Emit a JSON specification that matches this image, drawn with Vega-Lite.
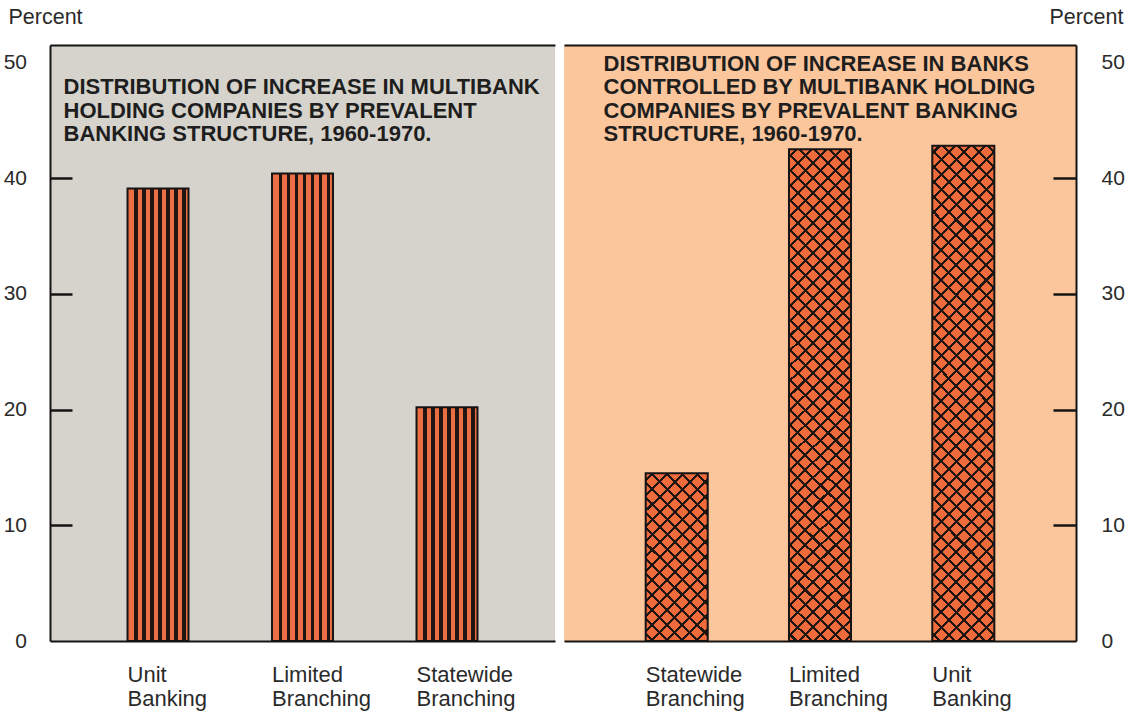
{
  "$schema": "https://vega.github.io/schema/vega-lite/v6.json",
  "background": "white",
  "padding": {"left": 3, "top": 6, "right": 5, "bottom": 10},
  "spacing": 9,
  "config": {
    "view": {"stroke": null},
    "font": "Liberation Sans",
    "axis": {"grid": false, "labelFont": "Liberation Sans", "titleFont": "Liberation Sans"}
  },
  "datasets": {
    "bars": [
      {"panel": "holding", "structure": "Unit Banking", "percent": 39.1},
      {"panel": "holding", "structure": "Limited Branching", "percent": 40.4},
      {"panel": "holding", "structure": "Statewide Branching", "percent": 20.2},
      {"panel": "banks", "structure": "Statewide Branching", "percent": 14.5},
      {"panel": "banks", "structure": "Limited Branching", "percent": 42.5},
      {"panel": "banks", "structure": "Unit Banking", "percent": 42.8}
    ]
  },
  "data": {"name": "bars"},
  "hconcat": [
    {
      "width": 505,
      "height": 596,
      "view": {"fill": "#D6D3CC", "stroke": null},
      "transform": [{"filter": "datum.panel === 'holding'"}],
      "resolve": {"axis": {"x": "independent"}},
      "layer": [
        {
          "mark": {
            "type": "bar",
            "fill": {
              "gradient": "linear", "x1": 0, "y1": 0, "x2": 1, "y2": 0,
              "stops": [
                {"offset": 0, "color": "#EB6E44"},
                {"offset": 0.1131, "color": "#EB6E44"}, {"offset": 0.1131, "color": "#1f1511"}, {"offset": 0.1656, "color": "#1f1511"}, {"offset": 0.1656, "color": "#EB6E44"},
                {"offset": 0.2443, "color": "#EB6E44"}, {"offset": 0.2443, "color": "#1f1511"}, {"offset": 0.2967, "color": "#1f1511"}, {"offset": 0.2967, "color": "#EB6E44"},
                {"offset": 0.3754, "color": "#EB6E44"}, {"offset": 0.3754, "color": "#1f1511"}, {"offset": 0.4279, "color": "#1f1511"}, {"offset": 0.4279, "color": "#EB6E44"},
                {"offset": 0.5066, "color": "#EB6E44"}, {"offset": 0.5066, "color": "#1f1511"}, {"offset": 0.559, "color": "#1f1511"}, {"offset": 0.559, "color": "#EB6E44"},
                {"offset": 0.6377, "color": "#EB6E44"}, {"offset": 0.6377, "color": "#1f1511"}, {"offset": 0.6902, "color": "#1f1511"}, {"offset": 0.6902, "color": "#EB6E44"},
                {"offset": 0.7689, "color": "#EB6E44"}, {"offset": 0.7689, "color": "#1f1511"}, {"offset": 0.8213, "color": "#1f1511"}, {"offset": 0.8213, "color": "#EB6E44"},
                {"offset": 0.9, "color": "#EB6E44"}, {"offset": 0.9, "color": "#1f1511"}, {"offset": 0.9525, "color": "#1f1511"}, {"offset": 0.9525, "color": "#EB6E44"},
                {"offset": 1, "color": "#EB6E44"}
              ]
            }
          },
          "encoding": {
            "x": {
              "field": "structure", "type": "nominal",
              "scale": {"domain": ["Unit Banking", "Limited Branching", "Statewide Branching"], "paddingInner": 0.578, "paddingOuter": 0.5365},
              "axis": {
                "orient": "bottom", "title": null, "ticks": false, "domain": true, "domainColor": "#141414", "domainWidth": 2,
                "labelOffset": -30.5, "labelAlign": "left", "labelBaseline": "top", "labelPadding": 23, "labelAngle": 0,
                "labelFontSize": 22, "labelColor": "#2a2a2a", "labelLineHeight": 24,
                "labelExpr": "split(datum.label, ' ')", "labelOverlap": false, "labelBound": false, "labelLimit": 0
              }
            },
            "y": {
              "field": "percent", "type": "quantitative",
              "scale": {"domain": [0, 51.5], "nice": false},
              "axis": {
                "orient": "left", "values": [0, 10, 20, 30, 40, 50], "grid": false,
                "title": "Percent", "titleAngle": 0, "titleAlign": "left", "titleBaseline": "middle",
                "titleX": -42, "titleY": -28, "titleFontSize": 21.5, "titleFontWeight": "normal", "titleColor": "#2a2a2a",
                "labelFontSize": 21, "labelColor": "#2a2a2a", "labelPadding": 45.5,
                "tickSize": -22, "tickWidth": 2.5, "tickColor": "#141414",
                "tickOpacity": {"condition": {"test": "datum.value === 0 || datum.value === 50", "value": 0}, "value": 1},
                "domainColor": "#141414", "domainWidth": 2
              }
            }
          }
        },
        {
          "mark": {"type": "bar", "fillOpacity": 0, "stroke": "#141414", "strokeWidth": 2},
          "encoding": {
            "x": {
              "field": "structure", "type": "nominal",
              "scale": {"domain": ["Unit Banking", "Limited Branching", "Statewide Branching"], "paddingInner": 0.578, "paddingOuter": 0.5365},
              "axis": {
                "orient": "top", "labels": false, "ticks": false, "domain": true, "domainColor": "#141414", "domainWidth": 2,
                "title": ["DISTRIBUTION OF INCREASE IN MULTIBANK", "HOLDING COMPANIES BY PREVALENT", "BANKING STRUCTURE, 1960-1970."],
                "titleFontSize": 22, "titleFontWeight": "bold", "titleColor": "#1e1e1e", "titleLineHeight": 23.5,
                "titleAlign": "left", "titleBaseline": "top", "titleAngle": 0, "titleAnchor": "start", "titleX": 13, "titleY": 31.5
              }
            },
            "y": {"field": "percent", "type": "quantitative", "scale": {"domain": [0, 51.5], "nice": false}}
          }
        }
      ]
    },
    {
      "width": 512,
      "height": 596,
      "view": {"fill": "#FCC69D", "stroke": null},
      "transform": [{"filter": "datum.panel === 'banks'"}],
      "resolve": {"axis": {"x": "independent"}},
      "layer": [
        {
          "mark": {"type": "bar", "fill": "#F06B3C"},
          "encoding": {
            "x": {
              "field": "structure", "type": "nominal",
              "scale": {"domain": ["Statewide Branching", "Limited Branching", "Unit Banking"], "paddingInner": 0.567, "paddingOuter": 0.57},
              "axis": {
                "orient": "bottom", "title": null, "ticks": false, "domain": true, "domainColor": "#141414", "domainWidth": 2,
                "labelOffset": -31, "labelAlign": "left", "labelBaseline": "top", "labelPadding": 23, "labelAngle": 0,
                "labelFontSize": 22, "labelColor": "#2a2a2a", "labelLineHeight": 24,
                "labelExpr": "split(datum.label, ' ')", "labelOverlap": false, "labelBound": false, "labelLimit": 0
              }
            },
            "y": {
              "field": "percent", "type": "quantitative",
              "scale": {"domain": [0, 51.5], "nice": false},
              "axis": {
                "orient": "right", "values": [0, 10, 20, 30, 40, 50], "grid": false,
                "title": "Percent", "titleAngle": 0, "titleAlign": "right", "titleBaseline": "middle",
                "titleX": 47, "titleY": -28, "titleFontSize": 21.5, "titleFontWeight": "normal", "titleColor": "#2a2a2a",
                "labelFontSize": 21, "labelColor": "#2a2a2a", "labelPadding": 48, "labelAlign": "left",
                "tickSize": -23, "tickWidth": 2.5, "tickColor": "#141414",
                "tickOpacity": {"condition": {"test": "datum.value === 0 || datum.value === 50", "value": 0}, "value": 1},
                "domainColor": "#141414", "domainWidth": 2
              }
            }
          }
        },
        {
          "transform": [{"filter": "datum.structure === 'Statewide Branching'"}],
          "mark": {
            "type": "bar",
            "fill": {
              "gradient": "linear", "x1": 0, "y1": 0, "x2": 0.4447, "y2": 1.2049,
              "stops": [
                {"offset": 0, "color": "rgba(0,0,0,0)"},
                {"offset": 0.0262, "color": "rgba(0,0,0,0)"}, {"offset": 0.0262, "color": "#1f1511"}, {"offset": 0.0393, "color": "#1f1511"}, {"offset": 0.0393, "color": "rgba(0,0,0,0)"},
                {"offset": 0.0917, "color": "rgba(0,0,0,0)"}, {"offset": 0.0917, "color": "#1f1511"}, {"offset": 0.1048, "color": "#1f1511"}, {"offset": 0.1048, "color": "rgba(0,0,0,0)"},
                {"offset": 0.1572, "color": "rgba(0,0,0,0)"}, {"offset": 0.1572, "color": "#1f1511"}, {"offset": 0.1703, "color": "#1f1511"}, {"offset": 0.1703, "color": "rgba(0,0,0,0)"},
                {"offset": 0.2227, "color": "rgba(0,0,0,0)"}, {"offset": 0.2227, "color": "#1f1511"}, {"offset": 0.2358, "color": "#1f1511"}, {"offset": 0.2358, "color": "rgba(0,0,0,0)"},
                {"offset": 0.2882, "color": "rgba(0,0,0,0)"}, {"offset": 0.2882, "color": "#1f1511"}, {"offset": 0.3013, "color": "#1f1511"}, {"offset": 0.3013, "color": "rgba(0,0,0,0)"},
                {"offset": 0.3537, "color": "rgba(0,0,0,0)"}, {"offset": 0.3537, "color": "#1f1511"}, {"offset": 0.3668, "color": "#1f1511"}, {"offset": 0.3668, "color": "rgba(0,0,0,0)"},
                {"offset": 0.4192, "color": "rgba(0,0,0,0)"}, {"offset": 0.4192, "color": "#1f1511"}, {"offset": 0.4323, "color": "#1f1511"}, {"offset": 0.4323, "color": "rgba(0,0,0,0)"},
                {"offset": 0.4847, "color": "rgba(0,0,0,0)"}, {"offset": 0.4847, "color": "#1f1511"}, {"offset": 0.4978, "color": "#1f1511"}, {"offset": 0.4978, "color": "rgba(0,0,0,0)"},
                {"offset": 0.5502, "color": "rgba(0,0,0,0)"}, {"offset": 0.5502, "color": "#1f1511"}, {"offset": 0.5633, "color": "#1f1511"}, {"offset": 0.5633, "color": "rgba(0,0,0,0)"},
                {"offset": 0.6157, "color": "rgba(0,0,0,0)"}, {"offset": 0.6157, "color": "#1f1511"}, {"offset": 0.6288, "color": "#1f1511"}, {"offset": 0.6288, "color": "rgba(0,0,0,0)"},
                {"offset": 0.6812, "color": "rgba(0,0,0,0)"}, {"offset": 0.6812, "color": "#1f1511"}, {"offset": 0.6943, "color": "#1f1511"}, {"offset": 0.6943, "color": "rgba(0,0,0,0)"},
                {"offset": 0.7467, "color": "rgba(0,0,0,0)"}, {"offset": 0.7467, "color": "#1f1511"}, {"offset": 0.7598, "color": "#1f1511"}, {"offset": 0.7598, "color": "rgba(0,0,0,0)"},
                {"offset": 0.8122, "color": "rgba(0,0,0,0)"}, {"offset": 0.8122, "color": "#1f1511"}, {"offset": 0.8253, "color": "#1f1511"}, {"offset": 0.8253, "color": "rgba(0,0,0,0)"},
                {"offset": 0.8777, "color": "rgba(0,0,0,0)"}, {"offset": 0.8777, "color": "#1f1511"}, {"offset": 0.8908, "color": "#1f1511"}, {"offset": 0.8908, "color": "rgba(0,0,0,0)"},
                {"offset": 0.9432, "color": "rgba(0,0,0,0)"}, {"offset": 0.9432, "color": "#1f1511"}, {"offset": 0.9563, "color": "#1f1511"}, {"offset": 0.9563, "color": "rgba(0,0,0,0)"},
                {"offset": 1, "color": "rgba(0,0,0,0)"}
              ]
            }
          },
          "encoding": {
            "x": {"field": "structure", "type": "nominal", "scale": {"domain": ["Statewide Branching", "Limited Branching", "Unit Banking"], "paddingInner": 0.567, "paddingOuter": 0.57}, "axis": null},
            "y": {"field": "percent", "type": "quantitative", "scale": {"domain": [0, 51.5], "nice": false}}
          }
        },
        {
          "transform": [{"filter": "datum.structure === 'Statewide Branching'"}],
          "mark": {
            "type": "bar",
            "fill": {
              "gradient": "linear", "x1": 0, "y1": 1, "x2": 0.4447, "y2": -0.2049,
              "stops": [
                {"offset": 0, "color": "rgba(0,0,0,0)"},
                {"offset": 0.0262, "color": "rgba(0,0,0,0)"}, {"offset": 0.0262, "color": "#1f1511"}, {"offset": 0.0393, "color": "#1f1511"}, {"offset": 0.0393, "color": "rgba(0,0,0,0)"},
                {"offset": 0.0917, "color": "rgba(0,0,0,0)"}, {"offset": 0.0917, "color": "#1f1511"}, {"offset": 0.1048, "color": "#1f1511"}, {"offset": 0.1048, "color": "rgba(0,0,0,0)"},
                {"offset": 0.1572, "color": "rgba(0,0,0,0)"}, {"offset": 0.1572, "color": "#1f1511"}, {"offset": 0.1703, "color": "#1f1511"}, {"offset": 0.1703, "color": "rgba(0,0,0,0)"},
                {"offset": 0.2227, "color": "rgba(0,0,0,0)"}, {"offset": 0.2227, "color": "#1f1511"}, {"offset": 0.2358, "color": "#1f1511"}, {"offset": 0.2358, "color": "rgba(0,0,0,0)"},
                {"offset": 0.2882, "color": "rgba(0,0,0,0)"}, {"offset": 0.2882, "color": "#1f1511"}, {"offset": 0.3013, "color": "#1f1511"}, {"offset": 0.3013, "color": "rgba(0,0,0,0)"},
                {"offset": 0.3537, "color": "rgba(0,0,0,0)"}, {"offset": 0.3537, "color": "#1f1511"}, {"offset": 0.3668, "color": "#1f1511"}, {"offset": 0.3668, "color": "rgba(0,0,0,0)"},
                {"offset": 0.4192, "color": "rgba(0,0,0,0)"}, {"offset": 0.4192, "color": "#1f1511"}, {"offset": 0.4323, "color": "#1f1511"}, {"offset": 0.4323, "color": "rgba(0,0,0,0)"},
                {"offset": 0.4847, "color": "rgba(0,0,0,0)"}, {"offset": 0.4847, "color": "#1f1511"}, {"offset": 0.4978, "color": "#1f1511"}, {"offset": 0.4978, "color": "rgba(0,0,0,0)"},
                {"offset": 0.5502, "color": "rgba(0,0,0,0)"}, {"offset": 0.5502, "color": "#1f1511"}, {"offset": 0.5633, "color": "#1f1511"}, {"offset": 0.5633, "color": "rgba(0,0,0,0)"},
                {"offset": 0.6157, "color": "rgba(0,0,0,0)"}, {"offset": 0.6157, "color": "#1f1511"}, {"offset": 0.6288, "color": "#1f1511"}, {"offset": 0.6288, "color": "rgba(0,0,0,0)"},
                {"offset": 0.6812, "color": "rgba(0,0,0,0)"}, {"offset": 0.6812, "color": "#1f1511"}, {"offset": 0.6943, "color": "#1f1511"}, {"offset": 0.6943, "color": "rgba(0,0,0,0)"},
                {"offset": 0.7467, "color": "rgba(0,0,0,0)"}, {"offset": 0.7467, "color": "#1f1511"}, {"offset": 0.7598, "color": "#1f1511"}, {"offset": 0.7598, "color": "rgba(0,0,0,0)"},
                {"offset": 0.8122, "color": "rgba(0,0,0,0)"}, {"offset": 0.8122, "color": "#1f1511"}, {"offset": 0.8253, "color": "#1f1511"}, {"offset": 0.8253, "color": "rgba(0,0,0,0)"},
                {"offset": 0.8777, "color": "rgba(0,0,0,0)"}, {"offset": 0.8777, "color": "#1f1511"}, {"offset": 0.8908, "color": "#1f1511"}, {"offset": 0.8908, "color": "rgba(0,0,0,0)"},
                {"offset": 0.9432, "color": "rgba(0,0,0,0)"}, {"offset": 0.9432, "color": "#1f1511"}, {"offset": 0.9563, "color": "#1f1511"}, {"offset": 0.9563, "color": "rgba(0,0,0,0)"},
                {"offset": 1, "color": "rgba(0,0,0,0)"}
              ]
            }
          },
          "encoding": {
            "x": {"field": "structure", "type": "nominal", "scale": {"domain": ["Statewide Branching", "Limited Branching", "Unit Banking"], "paddingInner": 0.567, "paddingOuter": 0.57}, "axis": null},
            "y": {"field": "percent", "type": "quantitative", "scale": {"domain": [0, 51.5], "nice": false}}
          }
        },
        {
          "transform": [{"filter": "datum.structure !== 'Statewide Branching'"}],
          "mark": {
            "type": "bar",
            "fill": {
              "gradient": "linear", "x1": 0, "y1": 0, "x2": 0.1392, "y2": 1.1081,
              "stops": [
                {"offset": 0, "color": "rgba(0,0,0,0)"},
                {"offset": 0.0108, "color": "rgba(0,0,0,0)"}, {"offset": 0.0108, "color": "#1f1511"}, {"offset": 0.0163, "color": "#1f1511"}, {"offset": 0.0163, "color": "rgba(0,0,0,0)"},
                {"offset": 0.0379, "color": "rgba(0,0,0,0)"}, {"offset": 0.0379, "color": "#1f1511"}, {"offset": 0.0433, "color": "#1f1511"}, {"offset": 0.0433, "color": "rgba(0,0,0,0)"},
                {"offset": 0.065, "color": "rgba(0,0,0,0)"}, {"offset": 0.065, "color": "#1f1511"}, {"offset": 0.0704, "color": "#1f1511"}, {"offset": 0.0704, "color": "rgba(0,0,0,0)"},
                {"offset": 0.0921, "color": "rgba(0,0,0,0)"}, {"offset": 0.0921, "color": "#1f1511"}, {"offset": 0.0975, "color": "#1f1511"}, {"offset": 0.0975, "color": "rgba(0,0,0,0)"},
                {"offset": 0.1191, "color": "rgba(0,0,0,0)"}, {"offset": 0.1191, "color": "#1f1511"}, {"offset": 0.1246, "color": "#1f1511"}, {"offset": 0.1246, "color": "rgba(0,0,0,0)"},
                {"offset": 0.1462, "color": "rgba(0,0,0,0)"}, {"offset": 0.1462, "color": "#1f1511"}, {"offset": 0.1516, "color": "#1f1511"}, {"offset": 0.1516, "color": "rgba(0,0,0,0)"},
                {"offset": 0.1733, "color": "rgba(0,0,0,0)"}, {"offset": 0.1733, "color": "#1f1511"}, {"offset": 0.1787, "color": "#1f1511"}, {"offset": 0.1787, "color": "rgba(0,0,0,0)"},
                {"offset": 0.2004, "color": "rgba(0,0,0,0)"}, {"offset": 0.2004, "color": "#1f1511"}, {"offset": 0.2058, "color": "#1f1511"}, {"offset": 0.2058, "color": "rgba(0,0,0,0)"},
                {"offset": 0.2274, "color": "rgba(0,0,0,0)"}, {"offset": 0.2274, "color": "#1f1511"}, {"offset": 0.2329, "color": "#1f1511"}, {"offset": 0.2329, "color": "rgba(0,0,0,0)"},
                {"offset": 0.2545, "color": "rgba(0,0,0,0)"}, {"offset": 0.2545, "color": "#1f1511"}, {"offset": 0.2599, "color": "#1f1511"}, {"offset": 0.2599, "color": "rgba(0,0,0,0)"},
                {"offset": 0.2816, "color": "rgba(0,0,0,0)"}, {"offset": 0.2816, "color": "#1f1511"}, {"offset": 0.287, "color": "#1f1511"}, {"offset": 0.287, "color": "rgba(0,0,0,0)"},
                {"offset": 0.3087, "color": "rgba(0,0,0,0)"}, {"offset": 0.3087, "color": "#1f1511"}, {"offset": 0.3141, "color": "#1f1511"}, {"offset": 0.3141, "color": "rgba(0,0,0,0)"},
                {"offset": 0.3357, "color": "rgba(0,0,0,0)"}, {"offset": 0.3357, "color": "#1f1511"}, {"offset": 0.3412, "color": "#1f1511"}, {"offset": 0.3412, "color": "rgba(0,0,0,0)"},
                {"offset": 0.3628, "color": "rgba(0,0,0,0)"}, {"offset": 0.3628, "color": "#1f1511"}, {"offset": 0.3682, "color": "#1f1511"}, {"offset": 0.3682, "color": "rgba(0,0,0,0)"},
                {"offset": 0.3899, "color": "rgba(0,0,0,0)"}, {"offset": 0.3899, "color": "#1f1511"}, {"offset": 0.3953, "color": "#1f1511"}, {"offset": 0.3953, "color": "rgba(0,0,0,0)"},
                {"offset": 0.417, "color": "rgba(0,0,0,0)"}, {"offset": 0.417, "color": "#1f1511"}, {"offset": 0.4224, "color": "#1f1511"}, {"offset": 0.4224, "color": "rgba(0,0,0,0)"},
                {"offset": 0.444, "color": "rgba(0,0,0,0)"}, {"offset": 0.444, "color": "#1f1511"}, {"offset": 0.4495, "color": "#1f1511"}, {"offset": 0.4495, "color": "rgba(0,0,0,0)"},
                {"offset": 0.4711, "color": "rgba(0,0,0,0)"}, {"offset": 0.4711, "color": "#1f1511"}, {"offset": 0.4765, "color": "#1f1511"}, {"offset": 0.4765, "color": "rgba(0,0,0,0)"},
                {"offset": 0.4982, "color": "rgba(0,0,0,0)"}, {"offset": 0.4982, "color": "#1f1511"}, {"offset": 0.5036, "color": "#1f1511"}, {"offset": 0.5036, "color": "rgba(0,0,0,0)"},
                {"offset": 0.5253, "color": "rgba(0,0,0,0)"}, {"offset": 0.5253, "color": "#1f1511"}, {"offset": 0.5307, "color": "#1f1511"}, {"offset": 0.5307, "color": "rgba(0,0,0,0)"},
                {"offset": 0.5524, "color": "rgba(0,0,0,0)"}, {"offset": 0.5524, "color": "#1f1511"}, {"offset": 0.5578, "color": "#1f1511"}, {"offset": 0.5578, "color": "rgba(0,0,0,0)"},
                {"offset": 0.5794, "color": "rgba(0,0,0,0)"}, {"offset": 0.5794, "color": "#1f1511"}, {"offset": 0.5848, "color": "#1f1511"}, {"offset": 0.5848, "color": "rgba(0,0,0,0)"},
                {"offset": 0.6065, "color": "rgba(0,0,0,0)"}, {"offset": 0.6065, "color": "#1f1511"}, {"offset": 0.6119, "color": "#1f1511"}, {"offset": 0.6119, "color": "rgba(0,0,0,0)"},
                {"offset": 0.6336, "color": "rgba(0,0,0,0)"}, {"offset": 0.6336, "color": "#1f1511"}, {"offset": 0.639, "color": "#1f1511"}, {"offset": 0.639, "color": "rgba(0,0,0,0)"},
                {"offset": 0.6607, "color": "rgba(0,0,0,0)"}, {"offset": 0.6607, "color": "#1f1511"}, {"offset": 0.6661, "color": "#1f1511"}, {"offset": 0.6661, "color": "rgba(0,0,0,0)"},
                {"offset": 0.6877, "color": "rgba(0,0,0,0)"}, {"offset": 0.6877, "color": "#1f1511"}, {"offset": 0.6932, "color": "#1f1511"}, {"offset": 0.6932, "color": "rgba(0,0,0,0)"},
                {"offset": 0.7148, "color": "rgba(0,0,0,0)"}, {"offset": 0.7148, "color": "#1f1511"}, {"offset": 0.7202, "color": "#1f1511"}, {"offset": 0.7202, "color": "rgba(0,0,0,0)"},
                {"offset": 0.7419, "color": "rgba(0,0,0,0)"}, {"offset": 0.7419, "color": "#1f1511"}, {"offset": 0.7473, "color": "#1f1511"}, {"offset": 0.7473, "color": "rgba(0,0,0,0)"},
                {"offset": 0.769, "color": "rgba(0,0,0,0)"}, {"offset": 0.769, "color": "#1f1511"}, {"offset": 0.7744, "color": "#1f1511"}, {"offset": 0.7744, "color": "rgba(0,0,0,0)"},
                {"offset": 0.796, "color": "rgba(0,0,0,0)"}, {"offset": 0.796, "color": "#1f1511"}, {"offset": 0.8015, "color": "#1f1511"}, {"offset": 0.8015, "color": "rgba(0,0,0,0)"},
                {"offset": 0.8231, "color": "rgba(0,0,0,0)"}, {"offset": 0.8231, "color": "#1f1511"}, {"offset": 0.8285, "color": "#1f1511"}, {"offset": 0.8285, "color": "rgba(0,0,0,0)"},
                {"offset": 0.8502, "color": "rgba(0,0,0,0)"}, {"offset": 0.8502, "color": "#1f1511"}, {"offset": 0.8556, "color": "#1f1511"}, {"offset": 0.8556, "color": "rgba(0,0,0,0)"},
                {"offset": 0.8773, "color": "rgba(0,0,0,0)"}, {"offset": 0.8773, "color": "#1f1511"}, {"offset": 0.8827, "color": "#1f1511"}, {"offset": 0.8827, "color": "rgba(0,0,0,0)"},
                {"offset": 0.9043, "color": "rgba(0,0,0,0)"}, {"offset": 0.9043, "color": "#1f1511"}, {"offset": 0.9098, "color": "#1f1511"}, {"offset": 0.9098, "color": "rgba(0,0,0,0)"},
                {"offset": 0.9314, "color": "rgba(0,0,0,0)"}, {"offset": 0.9314, "color": "#1f1511"}, {"offset": 0.9368, "color": "#1f1511"}, {"offset": 0.9368, "color": "rgba(0,0,0,0)"},
                {"offset": 0.9585, "color": "rgba(0,0,0,0)"}, {"offset": 0.9585, "color": "#1f1511"}, {"offset": 0.9639, "color": "#1f1511"}, {"offset": 0.9639, "color": "rgba(0,0,0,0)"},
                {"offset": 0.9856, "color": "rgba(0,0,0,0)"}, {"offset": 0.9856, "color": "#1f1511"}, {"offset": 0.991, "color": "#1f1511"}, {"offset": 0.991, "color": "rgba(0,0,0,0)"},
                {"offset": 1, "color": "rgba(0,0,0,0)"}
              ]
            }
          },
          "encoding": {
            "x": {"field": "structure", "type": "nominal", "scale": {"domain": ["Statewide Branching", "Limited Branching", "Unit Banking"], "paddingInner": 0.567, "paddingOuter": 0.57}, "axis": null},
            "y": {"field": "percent", "type": "quantitative", "scale": {"domain": [0, 51.5], "nice": false}}
          }
        },
        {
          "transform": [{"filter": "datum.structure !== 'Statewide Branching'"}],
          "mark": {
            "type": "bar",
            "fill": {
              "gradient": "linear", "x1": 0, "y1": 1, "x2": 0.1392, "y2": -0.1081,
              "stops": [
                {"offset": 0, "color": "rgba(0,0,0,0)"},
                {"offset": 0.0108, "color": "rgba(0,0,0,0)"}, {"offset": 0.0108, "color": "#1f1511"}, {"offset": 0.0163, "color": "#1f1511"}, {"offset": 0.0163, "color": "rgba(0,0,0,0)"},
                {"offset": 0.0379, "color": "rgba(0,0,0,0)"}, {"offset": 0.0379, "color": "#1f1511"}, {"offset": 0.0433, "color": "#1f1511"}, {"offset": 0.0433, "color": "rgba(0,0,0,0)"},
                {"offset": 0.065, "color": "rgba(0,0,0,0)"}, {"offset": 0.065, "color": "#1f1511"}, {"offset": 0.0704, "color": "#1f1511"}, {"offset": 0.0704, "color": "rgba(0,0,0,0)"},
                {"offset": 0.0921, "color": "rgba(0,0,0,0)"}, {"offset": 0.0921, "color": "#1f1511"}, {"offset": 0.0975, "color": "#1f1511"}, {"offset": 0.0975, "color": "rgba(0,0,0,0)"},
                {"offset": 0.1191, "color": "rgba(0,0,0,0)"}, {"offset": 0.1191, "color": "#1f1511"}, {"offset": 0.1246, "color": "#1f1511"}, {"offset": 0.1246, "color": "rgba(0,0,0,0)"},
                {"offset": 0.1462, "color": "rgba(0,0,0,0)"}, {"offset": 0.1462, "color": "#1f1511"}, {"offset": 0.1516, "color": "#1f1511"}, {"offset": 0.1516, "color": "rgba(0,0,0,0)"},
                {"offset": 0.1733, "color": "rgba(0,0,0,0)"}, {"offset": 0.1733, "color": "#1f1511"}, {"offset": 0.1787, "color": "#1f1511"}, {"offset": 0.1787, "color": "rgba(0,0,0,0)"},
                {"offset": 0.2004, "color": "rgba(0,0,0,0)"}, {"offset": 0.2004, "color": "#1f1511"}, {"offset": 0.2058, "color": "#1f1511"}, {"offset": 0.2058, "color": "rgba(0,0,0,0)"},
                {"offset": 0.2274, "color": "rgba(0,0,0,0)"}, {"offset": 0.2274, "color": "#1f1511"}, {"offset": 0.2329, "color": "#1f1511"}, {"offset": 0.2329, "color": "rgba(0,0,0,0)"},
                {"offset": 0.2545, "color": "rgba(0,0,0,0)"}, {"offset": 0.2545, "color": "#1f1511"}, {"offset": 0.2599, "color": "#1f1511"}, {"offset": 0.2599, "color": "rgba(0,0,0,0)"},
                {"offset": 0.2816, "color": "rgba(0,0,0,0)"}, {"offset": 0.2816, "color": "#1f1511"}, {"offset": 0.287, "color": "#1f1511"}, {"offset": 0.287, "color": "rgba(0,0,0,0)"},
                {"offset": 0.3087, "color": "rgba(0,0,0,0)"}, {"offset": 0.3087, "color": "#1f1511"}, {"offset": 0.3141, "color": "#1f1511"}, {"offset": 0.3141, "color": "rgba(0,0,0,0)"},
                {"offset": 0.3357, "color": "rgba(0,0,0,0)"}, {"offset": 0.3357, "color": "#1f1511"}, {"offset": 0.3412, "color": "#1f1511"}, {"offset": 0.3412, "color": "rgba(0,0,0,0)"},
                {"offset": 0.3628, "color": "rgba(0,0,0,0)"}, {"offset": 0.3628, "color": "#1f1511"}, {"offset": 0.3682, "color": "#1f1511"}, {"offset": 0.3682, "color": "rgba(0,0,0,0)"},
                {"offset": 0.3899, "color": "rgba(0,0,0,0)"}, {"offset": 0.3899, "color": "#1f1511"}, {"offset": 0.3953, "color": "#1f1511"}, {"offset": 0.3953, "color": "rgba(0,0,0,0)"},
                {"offset": 0.417, "color": "rgba(0,0,0,0)"}, {"offset": 0.417, "color": "#1f1511"}, {"offset": 0.4224, "color": "#1f1511"}, {"offset": 0.4224, "color": "rgba(0,0,0,0)"},
                {"offset": 0.444, "color": "rgba(0,0,0,0)"}, {"offset": 0.444, "color": "#1f1511"}, {"offset": 0.4495, "color": "#1f1511"}, {"offset": 0.4495, "color": "rgba(0,0,0,0)"},
                {"offset": 0.4711, "color": "rgba(0,0,0,0)"}, {"offset": 0.4711, "color": "#1f1511"}, {"offset": 0.4765, "color": "#1f1511"}, {"offset": 0.4765, "color": "rgba(0,0,0,0)"},
                {"offset": 0.4982, "color": "rgba(0,0,0,0)"}, {"offset": 0.4982, "color": "#1f1511"}, {"offset": 0.5036, "color": "#1f1511"}, {"offset": 0.5036, "color": "rgba(0,0,0,0)"},
                {"offset": 0.5253, "color": "rgba(0,0,0,0)"}, {"offset": 0.5253, "color": "#1f1511"}, {"offset": 0.5307, "color": "#1f1511"}, {"offset": 0.5307, "color": "rgba(0,0,0,0)"},
                {"offset": 0.5524, "color": "rgba(0,0,0,0)"}, {"offset": 0.5524, "color": "#1f1511"}, {"offset": 0.5578, "color": "#1f1511"}, {"offset": 0.5578, "color": "rgba(0,0,0,0)"},
                {"offset": 0.5794, "color": "rgba(0,0,0,0)"}, {"offset": 0.5794, "color": "#1f1511"}, {"offset": 0.5848, "color": "#1f1511"}, {"offset": 0.5848, "color": "rgba(0,0,0,0)"},
                {"offset": 0.6065, "color": "rgba(0,0,0,0)"}, {"offset": 0.6065, "color": "#1f1511"}, {"offset": 0.6119, "color": "#1f1511"}, {"offset": 0.6119, "color": "rgba(0,0,0,0)"},
                {"offset": 0.6336, "color": "rgba(0,0,0,0)"}, {"offset": 0.6336, "color": "#1f1511"}, {"offset": 0.639, "color": "#1f1511"}, {"offset": 0.639, "color": "rgba(0,0,0,0)"},
                {"offset": 0.6607, "color": "rgba(0,0,0,0)"}, {"offset": 0.6607, "color": "#1f1511"}, {"offset": 0.6661, "color": "#1f1511"}, {"offset": 0.6661, "color": "rgba(0,0,0,0)"},
                {"offset": 0.6877, "color": "rgba(0,0,0,0)"}, {"offset": 0.6877, "color": "#1f1511"}, {"offset": 0.6932, "color": "#1f1511"}, {"offset": 0.6932, "color": "rgba(0,0,0,0)"},
                {"offset": 0.7148, "color": "rgba(0,0,0,0)"}, {"offset": 0.7148, "color": "#1f1511"}, {"offset": 0.7202, "color": "#1f1511"}, {"offset": 0.7202, "color": "rgba(0,0,0,0)"},
                {"offset": 0.7419, "color": "rgba(0,0,0,0)"}, {"offset": 0.7419, "color": "#1f1511"}, {"offset": 0.7473, "color": "#1f1511"}, {"offset": 0.7473, "color": "rgba(0,0,0,0)"},
                {"offset": 0.769, "color": "rgba(0,0,0,0)"}, {"offset": 0.769, "color": "#1f1511"}, {"offset": 0.7744, "color": "#1f1511"}, {"offset": 0.7744, "color": "rgba(0,0,0,0)"},
                {"offset": 0.796, "color": "rgba(0,0,0,0)"}, {"offset": 0.796, "color": "#1f1511"}, {"offset": 0.8015, "color": "#1f1511"}, {"offset": 0.8015, "color": "rgba(0,0,0,0)"},
                {"offset": 0.8231, "color": "rgba(0,0,0,0)"}, {"offset": 0.8231, "color": "#1f1511"}, {"offset": 0.8285, "color": "#1f1511"}, {"offset": 0.8285, "color": "rgba(0,0,0,0)"},
                {"offset": 0.8502, "color": "rgba(0,0,0,0)"}, {"offset": 0.8502, "color": "#1f1511"}, {"offset": 0.8556, "color": "#1f1511"}, {"offset": 0.8556, "color": "rgba(0,0,0,0)"},
                {"offset": 0.8773, "color": "rgba(0,0,0,0)"}, {"offset": 0.8773, "color": "#1f1511"}, {"offset": 0.8827, "color": "#1f1511"}, {"offset": 0.8827, "color": "rgba(0,0,0,0)"},
                {"offset": 0.9043, "color": "rgba(0,0,0,0)"}, {"offset": 0.9043, "color": "#1f1511"}, {"offset": 0.9098, "color": "#1f1511"}, {"offset": 0.9098, "color": "rgba(0,0,0,0)"},
                {"offset": 0.9314, "color": "rgba(0,0,0,0)"}, {"offset": 0.9314, "color": "#1f1511"}, {"offset": 0.9368, "color": "#1f1511"}, {"offset": 0.9368, "color": "rgba(0,0,0,0)"},
                {"offset": 0.9585, "color": "rgba(0,0,0,0)"}, {"offset": 0.9585, "color": "#1f1511"}, {"offset": 0.9639, "color": "#1f1511"}, {"offset": 0.9639, "color": "rgba(0,0,0,0)"},
                {"offset": 0.9856, "color": "rgba(0,0,0,0)"}, {"offset": 0.9856, "color": "#1f1511"}, {"offset": 0.991, "color": "#1f1511"}, {"offset": 0.991, "color": "rgba(0,0,0,0)"},
                {"offset": 1, "color": "rgba(0,0,0,0)"}
              ]
            }
          },
          "encoding": {
            "x": {"field": "structure", "type": "nominal", "scale": {"domain": ["Statewide Branching", "Limited Branching", "Unit Banking"], "paddingInner": 0.567, "paddingOuter": 0.57}, "axis": null},
            "y": {"field": "percent", "type": "quantitative", "scale": {"domain": [0, 51.5], "nice": false}}
          }
        },
        {
          "mark": {"type": "bar", "fillOpacity": 0, "stroke": "#141414", "strokeWidth": 2},
          "encoding": {
            "x": {
              "field": "structure", "type": "nominal",
              "scale": {"domain": ["Statewide Branching", "Limited Branching", "Unit Banking"], "paddingInner": 0.567, "paddingOuter": 0.57},
              "axis": {
                "orient": "top", "labels": false, "ticks": false, "domain": true, "domainColor": "#141414", "domainWidth": 2,
                "title": ["DISTRIBUTION OF INCREASE IN BANKS", "CONTROLLED BY MULTIBANK HOLDING", "COMPANIES BY PREVALENT BANKING", "STRUCTURE, 1960-1970."],
                "titleFontSize": 22, "titleFontWeight": "bold", "titleColor": "#1e1e1e", "titleLineHeight": 23.5,
                "titleAlign": "left", "titleBaseline": "top", "titleAngle": 0, "titleAnchor": "start", "titleX": 39, "titleY": 8
              }
            },
            "y": {"field": "percent", "type": "quantitative", "scale": {"domain": [0, 51.5], "nice": false}}
          }
        }
      ]
    }
  ]
}
